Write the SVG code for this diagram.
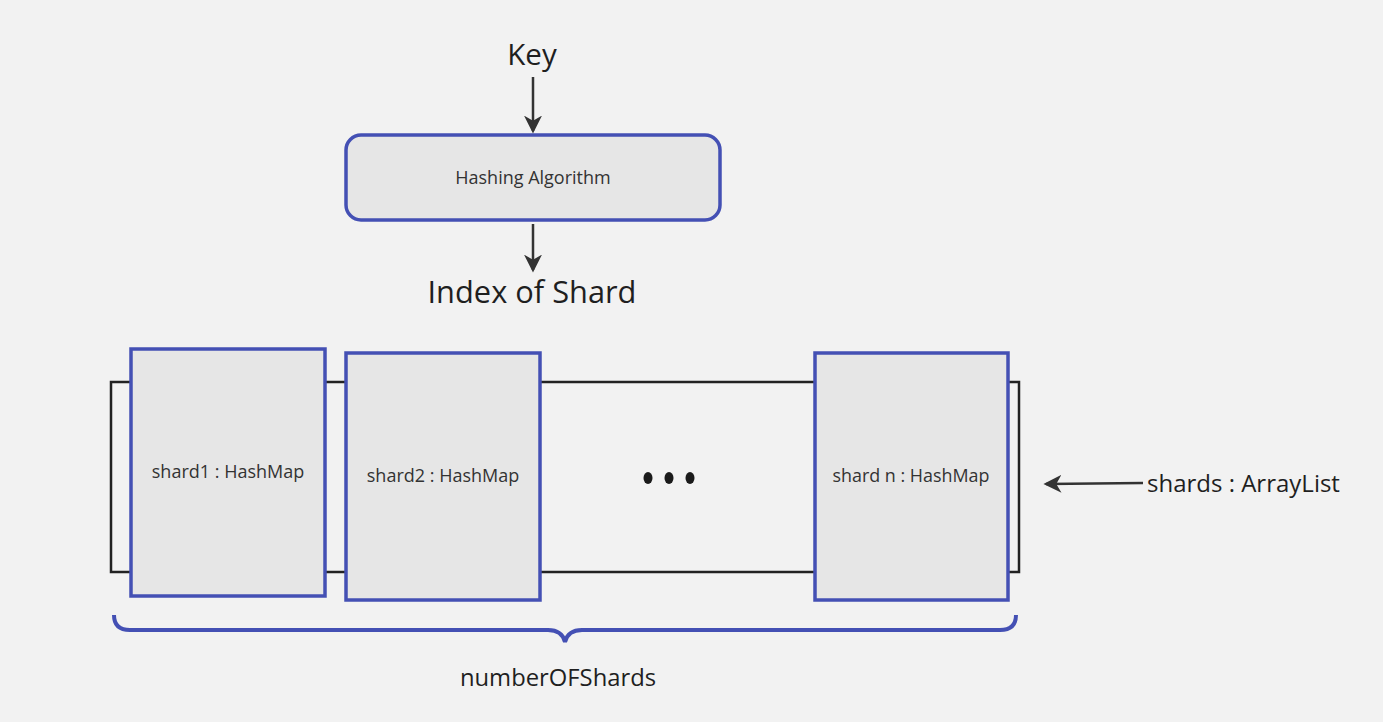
<svg xmlns="http://www.w3.org/2000/svg" width="1383" height="722" viewBox="0 0 1383 722">
<defs>
<marker id="ah2" viewBox="0 0 14 14" refX="12" refY="7" markerWidth="18" markerHeight="18" markerUnits="userSpaceOnUse" orient="auto">
<path d="M0,0 L14,7 L0,14 L4,7 Z" fill="#333"/>
</marker>
<style>
text{font-family:"Open Sans","Noto Sans","DejaVu Sans",sans-serif;fill:#1f1f1f;text-anchor:middle}
.node{fill:#e6e6e6;stroke:#4450b4;stroke-width:3.5}
.lbl{font-size:18px;fill:#333}
.conn{stroke:#333;stroke-width:2.5;fill:none}
</style>
</defs>
<rect width="1383" height="722" fill="#f2f2f2"/>
<g id="texts">
<text x="532" y="65" font-size="29.5">Key</text>
<text x="532" y="303" font-size="30.8">Index of Shard</text>
<text x="1147" y="492" font-size="24" style="text-anchor:start">shards : ArrayList</text>
<text x="558" y="686" font-size="23.8">numberOFShards</text>
</g>
<g id="arraylist">
<rect x="111" y="382" width="908" height="190" fill="none" stroke="#222" stroke-width="2.5"/>
</g>
<g id="hashing">
<rect class="node" x="346" y="135" width="374" height="85" rx="15"/>
<text class="lbl" x="533" y="184">Hashing Algorithm</text>
</g>
<g id="shard1">
<rect class="node" x="131" y="349" width="194" height="247"/>
<text class="lbl" x="228" y="478">shard1 : HashMap</text>
</g>
<g id="shard2">
<rect class="node" x="346" y="353" width="194" height="247"/>
<text class="lbl" x="443" y="482">shard2 : HashMap</text>
</g>
<g id="shardn">
<rect class="node" x="815" y="353" width="193" height="247"/>
<text class="lbl" x="911" y="482" textLength="157" lengthAdjust="spacingAndGlyphs">shard n : HashMap</text>
</g>
<g id="dots" fill="#1a1a1a">
<ellipse cx="648" cy="478" rx="4.5" ry="6"/>
<ellipse cx="669" cy="478" rx="4.5" ry="6"/>
<ellipse cx="690" cy="478" rx="4.5" ry="6"/>
</g>
<g id="brace">
<path d="M114,615 Q114,630 130,630 L548,630 Q562,630 565,642 Q568,630 582,630 L1000,630 Q1016,630 1016,615" fill="none" stroke="#4450b4" stroke-width="4"/>
</g>
<g id="connectors">
<line class="conn" x1="533" y1="77" x2="533" y2="131" marker-end="url(#ah2)"/>
<line class="conn" x1="533" y1="224" x2="533" y2="270" marker-end="url(#ah2)"/>
<line class="conn" x1="1143" y1="483" x2="1046" y2="484" marker-end="url(#ah2)"/>
</g>
</svg>
